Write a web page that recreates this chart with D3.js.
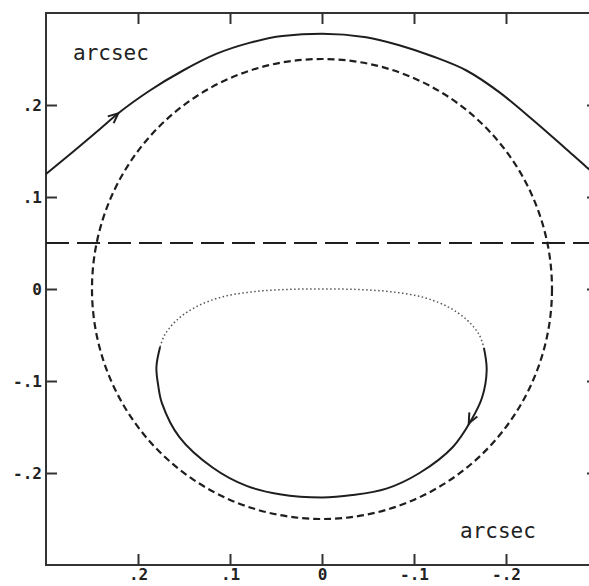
<!DOCTYPE html>
<html>
<head>
<meta charset="utf-8">
<script src="https://cdn.jsdelivr.net/npm/d3@7"></script>
<style>
  html, body { margin: 0; padding: 0; background: #fff; }
  svg { display: block; }
  text { font-family: "DejaVu Sans Mono", monospace; fill: #222; }
</style>
</head>
<body>
<svg id="chart" width="589" height="586"></svg>
<script>
// ---- data ----
const xTicks = [0.2, 0.1, 0, -0.1, -0.2];
const yTicks = [0.2, 0.1, 0, -0.1, -0.2];
const xTickLabels = [".2", ".1", "0", "-.1", "-.2"];
const yTickLabels = [".2", ".1", "0", "-.1", "-.2"];

const ringRadius = 0.25;      // dashed circle
const horizonY = 0.05;        // long-dashed horizontal line

// upper solid track
const trackX = [0.30, 0.2775, 0.2413, 0.2214, 0.1875, 0.151, 0.115, 0.079, 0.043, 0, -0.048, -0.084, -0.12, -0.157, -0.193, -0.229, -0.265, -0.287, -0.30];
const trackY = [0.125, 0.1435, 0.174, 0.191, 0.2155, 0.2375, 0.2555, 0.2675, 0.275, 0.2775, 0.2737, 0.265, 0.253, 0.2375, 0.2137, 0.184, 0.1525, 0.133, 0.122];

// lower loop, solid part
const loopX = [0.176, 0.180, 0.178, 0.174, 0.155, 0.119, 0.082, 0.046, 0, -0.033, -0.070, -0.106, -0.142, -0.162, -0.174, -0.179, -0.176];
const loopY = [-0.063, -0.085, -0.105, -0.124, -0.161, -0.194, -0.214, -0.223, -0.2265, -0.224, -0.217, -0.200, -0.172, -0.143, -0.118, -0.088, -0.064];

// lower loop, dotted part
const loopDotX = [0.176, 0.171, 0.158, 0.138, 0.110, 0.075, 0.038, 0, -0.038, -0.075, -0.110, -0.138, -0.158, -0.171, -0.176];
const loopDotY = [-0.063, -0.050, -0.034, -0.020, -0.009, -0.003, -0.0005, 0, -0.0005, -0.003, -0.009, -0.020, -0.034, -0.050, -0.064];

// arrow positions (tip point, and a point just behind it along the curve)
const arrowTipX = [0.2214, -0.1595];
const arrowTipY = [0.191, -0.146];
const arrowTailX = [0.2413, -0.174];
const arrowTailY = [0.174, -0.118];

// ---- drawing ----
const svg = d3.select("#chart");
const x = d3.scaleLinear().domain([0.3, -0.3]).range([46, 598]);
const y = d3.scaleLinear().domain([-0.3, 0.3]).range([565, 13]);
const ink = "#1e1e1e";

const line = d3.line().x(d => x(d[0])).y(d => y(d[1])).curve(d3.curveCatmullRom.alpha(0.5));
const trackLine = d3.line().x(d => x(d[0])).y(d => y(d[1])).curve(d3.curveMonotoneX);

// frame
svg.append("rect")
  .attr("x", x(0.3)).attr("y", y(0.3))
  .attr("width", x(-0.3) - x(0.3)).attr("height", y(-0.3) - y(0.3))
  .attr("fill", "none").attr("stroke", "#333").attr("stroke-width", 2);

// axes (ticks inward)
const tickLen = 11;
const gB = svg.append("g").attr("transform", `translate(0,${y(-0.3)})`)
  .call(d3.axisBottom(x).tickValues(xTicks).tickSizeInner(-tickLen).tickSizeOuter(0).tickPadding(4)
    .tickFormat((d, i) => xTickLabels[i]));
const gT = svg.append("g").attr("transform", `translate(0,${y(0.3)})`)
  .call(d3.axisTop(x).tickValues(xTicks).tickSizeInner(-tickLen).tickSizeOuter(0).tickFormat(""));
const gL = svg.append("g").attr("transform", `translate(${x(0.3)},0)`)
  .call(d3.axisLeft(y).tickValues(yTicks).tickSizeInner(-tickLen).tickSizeOuter(0).tickPadding(4)
    .tickFormat((d, i) => yTickLabels[i]));
const gR = svg.append("g").attr("transform", `translate(${x(-0.3)},0)`)
  .call(d3.axisRight(y).tickValues(yTicks).tickSizeInner(-tickLen).tickSizeOuter(0).tickFormat(""));
[gB, gT, gL, gR].forEach(g => {
  g.select(".domain").remove();
  g.selectAll(".tick line").attr("stroke", "#333").attr("stroke-width", 2);
  g.selectAll(".tick text").attr("font-size", 16).attr("font-weight", "bold").attr("fill", "#222")
    .style("font-family", "'DejaVu Sans Mono', monospace");
});

// dashed ring
svg.append("ellipse")
  .attr("cx", x(0)).attr("cy", y(0))
  .attr("rx", Math.abs(x(ringRadius) - x(0))).attr("ry", Math.abs(y(ringRadius) - y(0)))
  .attr("fill", "none").attr("stroke", ink).attr("stroke-width", 2.2)
  .attr("stroke-dasharray", "7,4");

// long dashed horizontal line
svg.append("line")
  .attr("x1", x(0.3)).attr("x2", x(-0.3))
  .attr("y1", y(horizonY)).attr("y2", y(horizonY))
  .attr("stroke", ink).attr("stroke-width", 2)
  .attr("stroke-dasharray", "23,8");

// upper track
svg.append("path")
  .attr("d", trackLine(trackX.map((v, i) => [v, trackY[i]])))
  .attr("fill", "none").attr("stroke", ink).attr("stroke-width", 2);

// lower loop solid
svg.append("path")
  .attr("d", line(loopX.map((v, i) => [v, loopY[i]])))
  .attr("fill", "none").attr("stroke", ink).attr("stroke-width", 2);

// lower loop dotted
svg.append("path")
  .attr("d", line(loopDotX.map((v, i) => [v, loopDotY[i]])))
  .attr("fill", "none").attr("stroke", "#555").attr("stroke-width", 1.5)
  .attr("stroke-dasharray", "1.5,2.5");

// arrowheads
arrowTipX.forEach((tx, i) => {
  const px = x(tx), py = y(arrowTipY[i]);
  const bx = x(arrowTailX[i]), by = y(arrowTailY[i]);
  const ang = Math.atan2(py - by, px - bx) * 180 / Math.PI;
  svg.append("path")
    .attr("transform", `translate(${px},${py}) rotate(${ang})`)
    .attr("d", "M-10,-4.5 L0,0 L-10,4.5")
    .attr("fill", "none").attr("stroke", ink).attr("stroke-width", 2)
    .attr("stroke-linejoin", "miter");
});

// labels
svg.append("text").attr("x", 73).attr("y", 60).attr("font-size", 21).text("arcsec");
svg.append("text").attr("x", 460).attr("y", 538).attr("font-size", 21).text("arcsec");
</script>
</body>
</html>
